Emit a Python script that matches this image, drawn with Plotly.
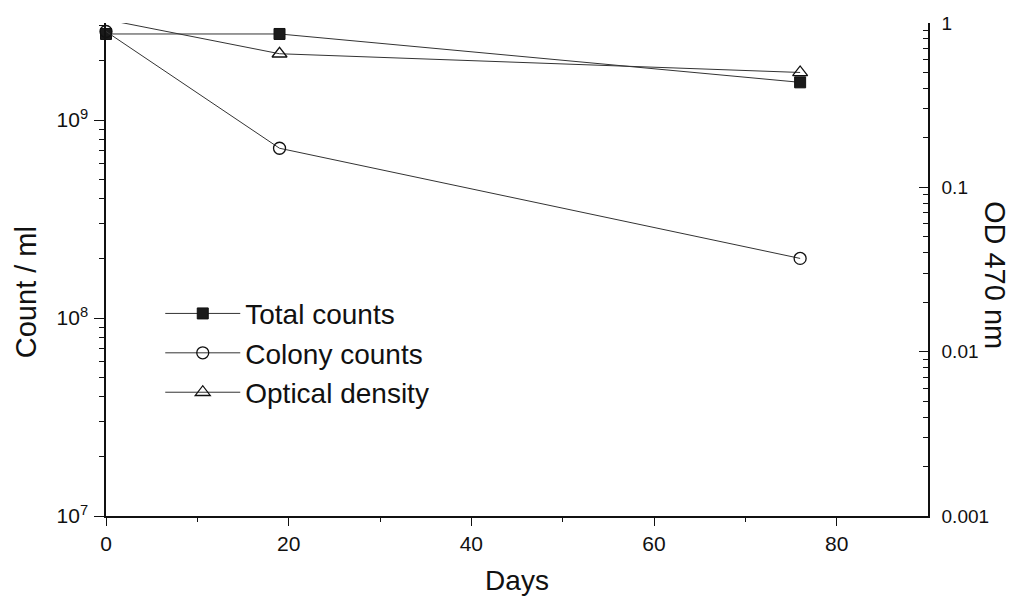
import plotly.graph_objects as go

# Sampling days
days = [0, 19, 76]

# Cell counts per ml (left axis)
total_counts = [2.72e9, 2.72e9, 1.55e9]
colony_counts = [2.8e9, 7.2e8, 2.0e8]

# Optical density at 470 nm (right axis)
optical_density = [1.05, 0.65, 0.50]

# Axis tick labels
left_tickvals = [1e7, 1e8, 1e9]
left_ticktext = ["10<sup>7</sup>", "10<sup>8</sup>", "10<sup>9</sup>"]
right_tickvals = [0.001, 0.01, 0.1, 1]
right_ticktext = ["0.001", "0.01", "0.1", "1"]

FONT = "Liberation Sans, Arial, sans-serif"
LINE = "#333333"
INK = "#111111"

left_minor = [m * 10 ** e for e in (7, 8) for m in range(2, 10)] + [2e9, 3e9]
right_minor = [m * 10 ** e for e in (-3, -2, -1) for m in range(2, 10)]

fig = go.Figure()

fig.add_trace(go.Scatter(
    x=days, y=total_counts, name="Total counts", mode="lines+markers",
    line=dict(color=LINE, width=1),
    marker=dict(symbol="square", size=11, color="#1a1a1a",
                line=dict(color=INK, width=1)),
    cliponaxis=False,
))
fig.add_trace(go.Scatter(
    x=days, y=colony_counts, name="Colony counts", mode="lines+markers",
    line=dict(color=LINE, width=1),
    marker=dict(symbol="circle-open", size=12, color=INK,
                line=dict(color=INK, width=1.3)),
    cliponaxis=False,
))
fig.add_trace(go.Scatter(
    x=days, y=optical_density, name="Optical density", mode="lines+markers",
    yaxis="y2",
    line=dict(color=LINE, width=1),
    marker=dict(symbol="triangle-up-open", size=13, color=INK,
                line=dict(color=INK, width=1.3)),
    cliponaxis=False,
))

fig.update_layout(
    width=1016, height=598,
    margin=dict(l=106, r=88, t=23, b=82, autoexpand=False),
    paper_bgcolor="white", plot_bgcolor="white",
    font=dict(family=FONT, color=INK, size=21),
    showlegend=True,
    legend=dict(
        x=0.066, y=0.461, xanchor="left", yanchor="top",
        bgcolor="rgba(0,0,0,0)", borderwidth=0,
        font=dict(family=FONT, size=28, color=INK),
        itemwidth=75, tracegroupgap=0,
    ),
    xaxis=dict(
        range=[0, 90], showgrid=False, zeroline=False, automargin=False,
        showline=True, linecolor=INK, linewidth=1.5,
        tickmode="array", tickvals=[0, 20, 40, 60, 80],
        ticks="outside", ticklen=8, tickwidth=1.2, tickcolor=INK,
        minor=dict(tickmode="array", tickvals=[10, 30, 50, 70],
                   ticks="outside", ticklen=4, tickwidth=1, tickcolor=INK),
        tickfont=dict(size=21),
        title=dict(text="Days", font=dict(size=28), standoff=16),
    ),
    yaxis=dict(
        type="log", range=[7, 9.49], showgrid=False, zeroline=False,
        automargin=False,
        showline=True, linecolor=INK, linewidth=1.5,
        tickmode="array", tickvals=left_tickvals, ticktext=left_ticktext,
        ticks="outside", ticklen=10, tickwidth=1.2, tickcolor=INK,
        minor=dict(tickmode="array", tickvals=left_minor,
                   ticks="outside", ticklen=5, tickwidth=1, tickcolor=INK),
        tickfont=dict(size=21),
        ticklabelstandoff=2,
    ),
    yaxis2=dict(
        type="log", range=[-3, 0], overlaying="y", side="right",
        showgrid=False, zeroline=False, automargin=False,
        showline=True, linecolor=INK, linewidth=1.5,
        tickmode="array", tickvals=right_tickvals, ticktext=right_ticktext,
        ticks="inside", ticklen=9, tickwidth=1.2, tickcolor=INK,
        minor=dict(tickmode="array", tickvals=right_minor,
                   ticks="inside", ticklen=5, tickwidth=1, tickcolor=INK),
        tickfont=dict(size=19),
        ticklabelstandoff=8,
    ),
    annotations=[
        dict(text="Count / ml", xref="paper", yref="paper",
             x=-0.0973, y=0.454, xanchor="center", yanchor="middle",
             textangle=-90, showarrow=False,
             font=dict(family=FONT, size=29, color=INK)),
        dict(text="OD 470 nm", xref="paper", yref="paper",
             x=1.0815, y=0.489, xanchor="center", yanchor="middle",
             textangle=90, showarrow=False,
             font=dict(family=FONT, size=29, color=INK)),
    ],
)

fig.write_html("out.html")
